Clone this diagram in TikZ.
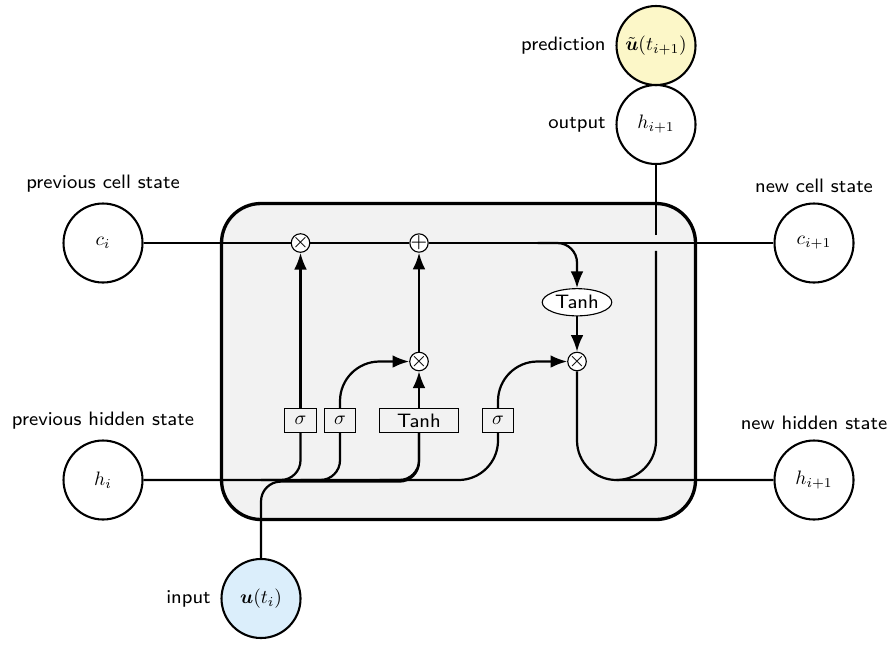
\documentclass[tikz,border=0pt]{standalone}
\usepackage{amsmath,amssymb}
\usepackage{graphicx}
\usetikzlibrary{arrows.meta,shapes.geometric}

\definecolor{predfill}{RGB}{252,247,200}
\definecolor{inputfill}{RGB}{219,238,251}

\newcommand{\cellmath}[1]{\scalebox{0.7}{\normalsize$#1$}}

\begin{document}
\begin{tikzpicture}[
    font=\sffamily\scriptsize,
    >={Latex[length=6pt,width=4.6pt]},
    cellbox/.style={rectangle, rounded corners=5mm, draw, very thick, fill=gray!10},
    operator/.style={circle, draw, fill=white, inner sep=-0.5pt, minimum height=.2cm},
    function/.style={ellipse, draw, fill=white, inner sep=1pt},
    ct/.style={circle, draw, line width=.75pt, minimum width=1cm, inner sep=1pt},
    gt/.style={rectangle, draw, minimum width=4mm, minimum height=3mm, inner sep=1pt},
    statelabel/.style={font=\scriptsize\sffamily},
    wiresmall/.style={rounded corners=.25cm, thick},
    wirebig/.style={rounded corners=.5cm, thick},
  ]

  \useasboundingbox (-5.804,-3.627) rectangle (5.525,4.576);

  \node[cellbox, minimum height=4cm, minimum width=6cm] (cell) at (0,0) {};

  % gates
  \node[gt] (ibox1) at (-2,-0.75) {\cellmath{\sigma}};
  \node[gt] (ibox2) at (-1.5,-0.75) {\cellmath{\sigma}};
  \node[gt, minimum width=1cm] (ibox3) at (-0.5,-0.75) {Tanh};
  \node[gt] (ibox4) at (0.5,-0.75) {\cellmath{\sigma}};

  \node[operator] (mux1) at (-2,1.5) {$\times$};
  \node[operator] (add1) at (-0.5,1.5) {$+$};
  \node[operator] (mux2) at (-0.5,0) {$\times$};
  \node[operator] (mux3) at (1.5,0) {$\times$};
  \node[function] (func1) at (1.5,0.75) {Tanh};

  % states in and out
  \node[ct, label={[statelabel]previous cell state}] (c) at (-4.5,1.5) {\cellmath{c_i}};
  \node[ct, label={[statelabel]previous hidden state}] (h) at (-4.5,-1.5) {\cellmath{h_i}};
  \node[ct, fill=inputfill, label={[statelabel]left:input}] (x) at (-2.5,-3) {\cellmath{\boldsymbol{u}(t_i)}};

  \node[ct, label={[statelabel]new cell state}] (c2) at (4.5,1.5) {\cellmath{c_{i+1}}};
  \node[ct, label={[statelabel]new hidden state}] (h2) at (4.5,-1.5) {\cellmath{h_{i+1}}};
  \node[ct, label={[statelabel]left:output}] (x2) at (2.5,3) {\cellmath{h_{i+1}}};
  \node[ct, fill=predfill, label={[statelabel]left:prediction}] (pred) at (2.5,4) {\cellmath{\tilde{\boldsymbol{u}}(t_{i+1})}};

  \coordinate (hb1) at (-2.5,-1.5);
  \coordinate (hb2) at (-2,-1.5);
  \coordinate (hb3) at (-1,-1.5);
  \coordinate (xh) at (-2.5,-1.52);
  \coordinate (cb) at (1,1.5);
  \coordinate (hout) at (2,-1.5);
  \coordinate (gaplow) at (2.5,1.4);
  \coordinate (gaphigh) at (2.5,1.6);

  \draw[wiresmall] (c) -- (mux1) -- (add1) -- (c2);

  \draw[wirebig] (h) -| (ibox4);
  \draw[wiresmall] (hb1) -| (ibox1);
  \draw[wiresmall] (hb2) -| (ibox2);
  \draw[wiresmall] (hb3) -| (ibox3);
  \draw[wiresmall] (x) -- (xh) -| (ibox3);

  \draw[->, wirebig] (ibox1) -- (mux1);
  \draw[->, wirebig] (ibox2) |- (mux2);
  \draw[->, wirebig] (ibox3) -- (mux2);
  \draw[->, wirebig] (ibox4) |- (mux3);
  \draw[->, wirebig] (mux2) -- (add1);
  \draw[->, wiresmall] (cb) -| (func1);
  \draw[->, wirebig] (func1) -- (mux3);

  \draw[wirebig] (mux3) |- (h2);
  \draw[wirebig] (hout) -| (gaplow);
  \draw[thick] (gaphigh) -- (x2);

\end{tikzpicture}
\end{document}
